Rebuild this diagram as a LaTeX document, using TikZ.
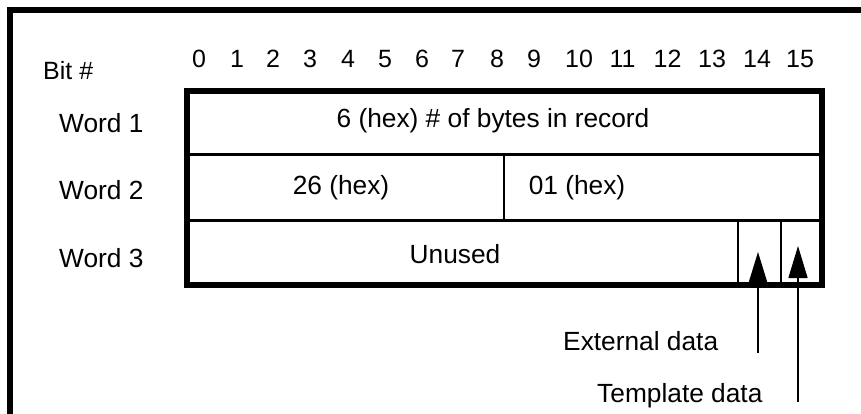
\documentclass[tikz,border=0pt]{standalone}
\usepackage{fontspec}
\setmainfont{Liberation Sans}
\usetikzlibrary{arrows.meta}
\begin{document}
\begin{tikzpicture}[x=1pt,y=-1pt,
  hdr/.style={font=\fontsize{25}{29}\selectfont, inner sep=0pt},
  lbl/.style={font=\fontsize{26.3}{31}\selectfont, inner sep=0pt},
  framerule/.style={line width=6pt, line cap=butt},
  heavy/.style={line width=6pt},
  rowrule/.style={line width=3.5pt},
  fieldrule/.style={line width=1.3pt},
  ptr/.style={line width=1.5pt, -{Triangle[width=18pt,length=30pt]}}]
\useasboundingbox (0,0) rectangle (861,414);
\fill[white] (0,0) rectangle (861,414);

% page frame (top and left edges)
\draw[framerule, line join=miter] (10,414) -- (10,10) -- (861,10);

% bit numbers
\node[hdr, anchor=base west] (bit) at (43,80) {Bit \#};
\foreach \n/\x in {0/199,1/237,2/273,3/310,4/348,5/385,6/422,7/458,8/497,9/534,
                   10/579,11/622.5,12/667.5,13/712,14/757,15/800}
  \node[hdr, anchor=base] (b\n) at (\x,68) {\n};

% word labels
\node[lbl, anchor=base west] (w1) at (59,133) {Word 1};
\node[lbl, anchor=base west] (w2) at (59,200) {Word 2};
\node[lbl, anchor=base west] (w3) at (59,267) {Word 3};

% record layout
\coordinate (tl) at (187,91);
\coordinate (br) at (822,285);
\draw[rowrule] (187,154.5) -- (822,154.5);
\draw[rowrule] (187,220.5) -- (822,220.5);
\draw[fieldrule] (504,154.5) -- (504,220.5);
\draw[fieldrule] (738,220.5) -- (738,285);
\draw[fieldrule] (781,220.5) -- (781,285);
\draw[heavy] (tl) rectangle (br);

% field contents
\node[lbl, anchor=base] (f1) at (493,128) {6 (hex) \# of bytes in record};
\node[lbl, anchor=base] (f2a) at (341,194) {26 (hex)};
\node[lbl, anchor=base] (f2b) at (577,194) {01 (hex)};
\node[lbl, anchor=base] (f3) at (455,263) {Unused};

% flag bits
\node[lbl, anchor=base west] (ext) at (563,350) {External data};
\node[lbl, anchor=base west] (tmp) at (597,402) {Template data};
\coordinate (extfoot) at (758,353);
\coordinate (exttip) at (758,252);
\coordinate (tmpfoot) at (798,402);
\coordinate (tmptip) at (798,246);
\draw[ptr] (extfoot) -- (exttip);
\draw[ptr, -{Triangle[width=19pt,length=32pt]}] (tmpfoot) -- (tmptip);
\end{tikzpicture}
\end{document}
